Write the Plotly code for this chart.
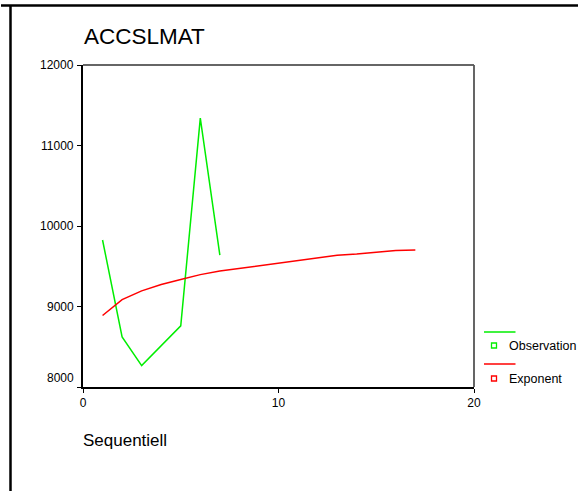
import plotly.graph_objects as go

# ---- data ----
obs_x = [1, 2, 3, 4, 5, 6, 7]
obs_y = [9826, 8622, 8266, 8512, 8759, 11340, 9639]
exp_x = list(range(1, 18))
exp_y = [8888, 9086, 9194, 9274, 9336, 9396, 9440, 9473, 9512, 9540,
         9578, 9610, 9636, 9652, 9678, 9696, 9703]
y_ticks = [8000, 9000, 10000, 11000, 12000]
x_ticks = [0, 10, 20]
title_text = "ACCSLMAT"
xlabel_text = "Sequentiell"
legend_names = ["Observation", "Exponent"]
colors = ["#00ee00", "#ff0000"]

W, H = 582, 491
L, R, T, B = 83, 474, 65, 387
PW, PH = R - L, B - T
FONT = "Arial, Liberation Sans, sans-serif"


def px(x):
    return (x - L) / PW


def py(y):
    return (B - y) / PH


fig = go.Figure()
fig.add_trace(go.Scatter(x=obs_x, y=obs_y, mode="lines",
                         line=dict(color=colors[0], width=1.5), showlegend=False))
fig.add_trace(go.Scatter(x=exp_x, y=exp_y, mode="lines",
                         line=dict(color=colors[1], width=1.5), showlegend=False))

shapes = []
# outer frame lines
shapes.append(dict(type="line", xref="paper", yref="paper", x0=px(1), x1=px(578),
                   y0=py(5.5), y1=py(5.5), line=dict(color="black", width=2.5)))
shapes.append(dict(type="line", xref="paper", yref="paper", x0=px(10.5), x1=px(10.5),
                   y0=py(5), y1=py(491), line=dict(color="black", width=2.5)))
# top and right plot border
shapes.append(dict(type="line", xref="paper", yref="paper", x0=0, x1=1, y0=1, y1=1,
                   line=dict(color="#333333", width=1.3)))
shapes.append(dict(type="line", xref="paper", yref="paper", x0=1, x1=1, y0=0, y1=1,
                   line=dict(color="#555555", width=1.8)))

annotations = []
# custom legend
leg_line_y = [332, 364]
leg_mark_y = [345.5, 378.5]
for name, col, ly, my in zip(legend_names, colors, leg_line_y, leg_mark_y):
    shapes.append(dict(type="line", xref="paper", yref="paper", x0=px(484), x1=px(515.5),
                       y0=py(ly), y1=py(ly), line=dict(color=col, width=1.5)))
    shapes.append(dict(type="rect", xref="paper", yref="paper", x0=px(491.5), x1=px(496.5),
                       y0=py(my - 2.5), y1=py(my + 2.5), fillcolor="white",
                       line=dict(color=col, width=1.3)))
    annotations.append(dict(text=name, xref="paper", yref="paper", x=px(506.5), y=py(my),
                            xanchor="left", yanchor="middle", showarrow=False,
                            font=dict(family=FONT, size=12.5, color="black")))

# y tick labels
for v in y_ticks:
    annotations.append(dict(text=str(v), xref="paper", yref="y", x=0, y=v,
                            xanchor="right", yanchor="middle", xshift=-7,
                            yshift=9 if v == y_ticks[0] else 0, showarrow=False,
                            font=dict(family=FONT, size=12, color="black")))

# title and x label
annotations.append(dict(text=title_text, xref="paper", yref="paper", x=px(82), y=py(36),
                        xanchor="left", yanchor="middle", showarrow=False,
                        font=dict(family=FONT, size=22.5, color="black")))
annotations.append(dict(text=xlabel_text, xref="paper", yref="paper", x=px(81), y=py(440),
                        xanchor="left", yanchor="middle", showarrow=False,
                        font=dict(family=FONT, size=17, color="black")))

fig.update_layout(
    width=W, height=H,
    margin=dict(l=L, r=W - R, t=T, b=H - B, pad=0),
    paper_bgcolor="white", plot_bgcolor="white",
    showlegend=False,
    shapes=shapes, annotations=annotations,
    font=dict(family=FONT, size=12, color="black"),
    xaxis=dict(range=[0, 20], tickvals=x_ticks, ticks="outside", ticklen=4,
               tickwidth=1.3, tickcolor="black", showline=True, linecolor="black",
               linewidth=2, showgrid=False, zeroline=False,
               tickfont=dict(family=FONT, size=12, color="black")),
    yaxis=dict(range=[8000, 12000], tickvals=y_ticks, ticks="outside", ticklen=4,
               tickwidth=1.3, tickcolor="black", showline=True, linecolor="black",
               linewidth=2, showgrid=False, zeroline=False, showticklabels=False),
)

fig.write_html("out.html", config={"displayModeBar": False},
               post_script="document.body.style.margin='0';document.body.style.overflow='hidden';")
